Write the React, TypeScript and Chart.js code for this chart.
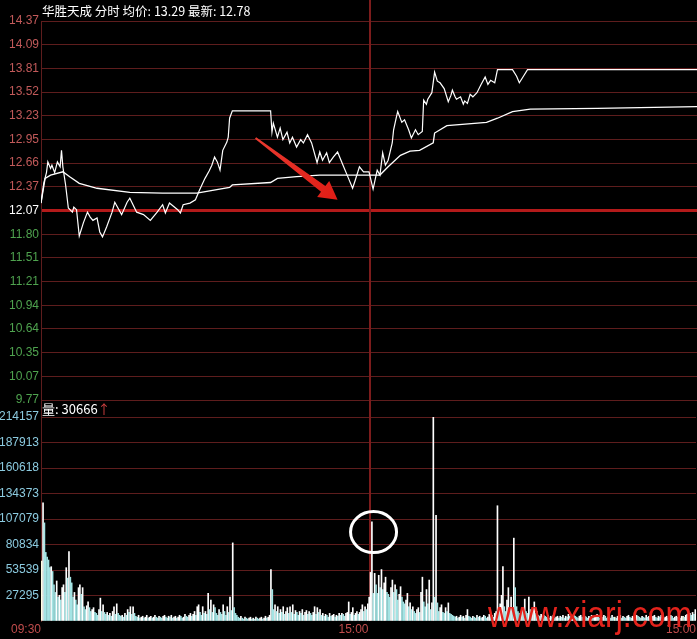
import React, { useEffect, useRef } from 'react';
import { Chart, registerables } from 'chart.js';

Chart.register(...registerables);

// ---------- text ----------
const STOCK_NAME = '华胜天成';
const MODE_LABEL = '分时';
const AVG_LABEL = '均价';
const AVG_VALUE = '13.29';
const LAST_LABEL = '最新';
const LAST_VALUE = '12.78';
const VOL_LABEL = '量';
const VOL_VALUE = '30666';
const WATERMARK = 'www.xiarj.com';

// ---------- axes ----------
const timeTickValues = [0, 240, 480];
const timeTickLabels = ['09:30', '15:00', '15:00'];
const dayBreak = 241;
const minuteMax = 480;

// bottom -> top
const priceTickLabels = ['9.77', '10.07', '10.35', '10.64', '10.94', '11.21', '11.51', '11.80', '12.07', '12.37', '12.66', '12.95', '13.23', '13.52', '13.81', '14.09', '14.37'];
const priceMin = 9.77;
const priceMax = 14.37;
const prevCloseLabel = '12.07';

// bottom -> top
const volumeTickLabels = ['', '27295', '53539', '80834', '107079', '134373', '160618', '187913', '214157'];
const volumeMax = 214157;

// ---------- price series (minute index, price) ----------
const priceMinutes = [0, 2, 4, 5, 7, 8, 10, 12, 14, 15, 16, 18, 20, 23, 24, 26, 28, 31, 34, 36, 38, 41, 43, 45, 48, 52, 54, 56, 59, 63, 65, 70, 75, 80, 85, 89, 91, 94, 100, 102, 104, 109, 113, 116, 120, 123, 125, 127, 129, 131, 133, 136, 137, 138, 140, 168, 169, 170, 173, 175, 177, 180, 182, 184, 187, 190, 192, 195, 198, 202, 204, 206, 209, 211, 214, 217, 221, 225, 228, 230, 233, 236, 240, 243, 246, 248, 250, 252, 254, 257, 258, 260, 261, 264, 266, 269, 271, 274, 276, 279, 280, 282, 283, 286, 288, 290, 292, 295, 298, 300, 301, 303, 304, 307, 309, 310, 312, 314, 316, 319, 322, 325, 327, 329, 332, 334, 345, 348, 350, 353, 356, 480];
const priceValues = [12.16, 12.40, 12.53, 12.66, 12.58, 12.62, 12.53, 12.66, 12.60, 12.80, 12.60, 12.38, 12.10, 12.05, 12.11, 12.08, 11.76, 11.92, 12.05, 11.99, 11.95, 11.98, 11.81, 11.75, 11.87, 12.05, 12.17, 12.11, 12.02, 12.17, 12.22, 12.05, 12.02, 11.95, 12.05, 12.14, 12.04, 12.16, 12.08, 12.04, 12.14, 12.16, 12.20, 12.32, 12.46, 12.55, 12.62, 12.72, 12.66, 12.56, 12.80, 12.90, 12.96, 13.19, 13.28, 13.28, 13.02, 13.13, 12.96, 13.07, 12.93, 13.02, 12.89, 12.96, 12.84, 12.93, 12.89, 12.99, 12.89, 12.65, 12.78, 12.68, 12.77, 12.65, 12.72, 12.78, 12.62, 12.46, 12.34, 12.44, 12.60, 12.54, 12.54, 12.33, 12.56, 12.50, 12.77, 12.62, 12.68, 12.89, 13.05, 13.20, 13.27, 13.14, 13.17, 13.05, 12.95, 13.05, 12.99, 13.03, 13.41, 13.36, 13.42, 13.50, 13.75, 13.64, 13.62, 13.55, 13.39, 13.47, 13.53, 13.45, 13.42, 13.45, 13.36, 13.40, 13.37, 13.48, 13.45, 13.50, 13.60, 13.69, 13.60, 13.65, 13.62, 13.78, 13.78, 13.70, 13.62, 13.70, 13.78, 13.78];

// ---------- average price series ----------
const avgMinutes = [0, 3, 7, 16, 21, 28, 41, 65, 89, 114, 138, 140, 168, 173, 187, 204, 248, 254, 263, 270, 277, 287, 288, 297, 326, 334, 345, 358, 407, 480];
const avgValues = [12.16, 12.46, 12.50, 12.54, 12.48, 12.40, 12.34, 12.29, 12.28, 12.28, 12.35, 12.38, 12.41, 12.46, 12.48, 12.50, 12.50, 12.60, 12.74, 12.79, 12.80, 12.89, 13.01, 13.10, 13.14, 13.19, 13.27, 13.30, 13.31, 13.33];

// ---------- volume per minute (thousands of shares) ----------
const volumeDay1 = [
  63, 124, 103, 72, 67, 64, 56, 57, 52, 38, 30, 42, 25, 27, 22, 35, 38, 30, 56, 45,
  73, 46, 40, 25, 30, 22, 17, 35, 38, 28, 35, 15, 12, 16, 20, 14, 10, 12, 14, 9,
  8, 6, 12, 24, 10, 17, 9, 7, 9, 6, 8, 5, 10, 15, 7, 18, 8, 6, 5, 6,
  4, 8, 6, 12, 9, 15, 7, 15, 8, 5, 4, 6, 3, 4, 5, 3, 4, 6, 3, 4,
  5, 3, 4, 6, 4, 3, 5, 4, 3, 5, 6, 4, 3, 5, 4, 6, 3, 4, 5, 3,
  4, 6, 5, 3, 4, 7, 5, 4, 6, 8, 5, 7, 10, 6, 15, 17, 9, 6, 15, 8,
  10, 7, 29, 12, 22, 9, 17, 14, 8, 6, 12, 9, 7, 17, 10, 6, 15, 9, 25, 11,
  82, 14, 8, 6, 4, 3, 5, 3, 2, 4, 3, 2, 3, 4, 2, 3, 2, 4, 3, 2,
  3, 4, 2, 3, 5, 3, 4, 6, 54, 33, 12, 17, 10, 15, 8, 12, 9, 15, 7, 10,
  14, 8, 15, 9, 17, 7, 11, 9, 6, 10, 8, 12, 6, 9, 11, 7, 10, 8, 6, 9,
  15, 7, 14, 9, 12, 6, 8, 5, 7, 6, 4, 8, 5, 6, 7, 4, 6, 5, 8, 6,
  8, 7, 5, 8, 9, 20, 7, 9, 14, 6, 8, 10, 7, 9, 12, 17, 10, 15, 12, 18,
];
const volumeDay2 = [
  25, 51, 104, 29, 50, 38, 29, 48, 35, 54, 33, 40, 46, 30, 28, 25, 35, 43, 30, 38,
  33, 22, 28, 36, 25, 20, 18, 22, 29, 15, 19, 12, 15, 10, 8, 12, 14, 9, 30, 46,
  20, 15, 33, 18, 43, 12, 19, 214, 25, 111, 19, 10, 14, 17, 9, 8, 14, 10, 19, 8,
  7, 6, 5, 4, 5, 3, 4, 6, 4, 5, 3, 6, 12, 5, 4, 3, 5, 4, 3, 6,
  4, 5, 3, 4, 6, 5, 3, 4, 7, 5, 6, 4, 8, 10, 121, 12, 18, 27, 57, 15,
  10, 22, 35, 14, 25, 12, 87, 35, 15, 10, 8, 6, 12, 9, 23, 10, 8, 25, 12, 9,
  14, 20, 8, 10, 6, 5, 7, 4, 6, 5, 4, 6, 3, 5, 4, 6, 3, 4, 5, 3,
  5, 4, 6, 3, 5, 4, 7, 5, 3, 4, 6, 5, 4, 3, 5, 6, 4, 3, 5, 4,
  3, 5, 4, 6, 3, 4, 5, 7, 4, 3, 5, 4, 6, 5, 3, 4, 5, 3, 6, 4,
  4, 3, 5, 4, 6, 3, 5, 4, 3, 5, 6, 4, 3, 5, 4, 3, 6, 5, 4, 3,
  5, 4, 3, 6, 4, 5, 3, 4, 5, 6, 4, 3, 5, 4, 6, 5, 3, 4, 5, 3,
  4, 6, 5, 3, 4, 5, 4, 6, 3, 5, 5, 4, 6, 7, 5, 8, 6, 9, 7, 12,
];
const volumeUnit = 1000;

// ---------- annotations (data coordinates) ----------
const arrowFrom = { minute: 157, price: 12.95 };
const arrowTo = { minute: 217, price: 12.2 };
const circleAt = { minute: 243.7, volume: 93400 };

// ---------- styles ----------
const BG = '#000000';
const GRID = '#5e1d1d';
const PREV_CLOSE_LINE = '#b31a1a';
const SEPARATOR = '#7c1c1c';
const UP_TEXT = '#c25a5a';
const DOWN_TEXT = '#4fa34f';
const VOL_TEXT = '#8ccbe0';
const TIME_TEXT = '#c04c4c';
const AXIS_FONT = 'Liberation Sans';
const CJK_FONT = '"Noto Sans CJK SC"';

const pricePoints = priceMinutes.map((m, i) => ({ x: m, y: priceValues[i] }));
const avgPoints = avgMinutes.map((m, i) => ({ x: m, y: avgValues[i] }));
const allVolumes = [...volumeDay1, ...volumeDay2];
const volumePoints = allVolumes.map((v, i) => ({ x: i + 0.5, y: v * volumeUnit }));
const volumeColors = allVolumes.map((v, i) => {
  const prev = i > 0 ? allVolumes[i - 1] : v;
  if (v > prev) return '#ffffff';
  if (v === prev) return '#fffde0';
  return '#a4e4e4';
});

const prevCloseIndex = priceTickLabels.indexOf(prevCloseLabel);

const headerPlugin = {
  id: 'header',
  afterDraw(chart: any) {
    const { ctx, chartArea } = chart;
    ctx.save();
    ctx.font = `12.5px ${CJK_FONT}`;
    ctx.fillStyle = '#ffffff';
    ctx.textBaseline = 'middle';
    ctx.textAlign = 'left';
    const text = `${STOCK_NAME} ${MODE_LABEL} ${AVG_LABEL}: ${AVG_VALUE} ${LAST_LABEL}: ${LAST_VALUE}`;
    ctx.fillText(text, chartArea.left + 1, 11);
    ctx.restore();
  },
};

const separatorPlugin = {
  id: 'separator',
  beforeDatasetsDraw(chart: any) {
    const { ctx, chartArea, scales } = chart;
    const x = Math.round(scales.x.getPixelForValue(dayBreak));
    ctx.save();
    ctx.strokeStyle = SEPARATOR;
    ctx.lineWidth = 2;
    ctx.beginPath();
    ctx.moveTo(x, 0);
    ctx.lineTo(x, chart.options.plugins.separator?.toBottom ? chartArea.bottom : chart.height);
    ctx.stroke();
    if (chart.options.plugins.separator?.extendAxis) {
      ctx.strokeStyle = GRID;
      ctx.lineWidth = 1;
      ctx.beginPath();
      ctx.moveTo(chartArea.left + 0.5, 0);
      ctx.lineTo(chartArea.left + 0.5, chartArea.top);
      ctx.stroke();
    }
    ctx.restore();
  },
};

const arrowPlugin = {
  id: 'arrow',
  afterDatasetsDraw(chart: any) {
    const { ctx, scales } = chart;
    const tx = scales.x.getPixelForValue(arrowFrom.minute);
    const ty = scales.y.getPixelForValue(arrowFrom.price);
    const hx = scales.x.getPixelForValue(arrowTo.minute);
    const hy = scales.y.getPixelForValue(arrowTo.price);
    const dx = hx - tx;
    const dy = hy - ty;
    const len = Math.hypot(dx, dy);
    const ux = dx / len;
    const uy = dy / len;
    const nx = -uy;
    const ny = ux;
    const headLen = 18;
    const headHalf = 10;
    const tailHalf = 1;
    const neckHalf = 3.6;
    const bx = hx - ux * headLen;
    const by = hy - uy * headLen;
    ctx.save();
    const grad = ctx.createLinearGradient(tx, ty, hx, hy);
    grad.addColorStop(0, '#ea3b30');
    grad.addColorStop(1, '#e01c15');
    ctx.fillStyle = grad;
    ctx.beginPath();
    ctx.moveTo(tx + nx * tailHalf, ty + ny * tailHalf);
    ctx.lineTo(bx + nx * neckHalf, by + ny * neckHalf);
    ctx.lineTo(bx + nx * headHalf, by + ny * headHalf);
    ctx.lineTo(hx, hy);
    ctx.lineTo(bx - nx * headHalf, by - ny * headHalf);
    ctx.lineTo(bx - nx * neckHalf, by - ny * neckHalf);
    ctx.lineTo(tx - nx * tailHalf, ty - ny * tailHalf);
    ctx.closePath();
    ctx.fill();
    ctx.restore();
  },
};

const volumeDecorPlugin = {
  id: 'volumeDecor',
  afterDatasetsDraw(chart: any) {
    const { ctx, chartArea, scales } = chart;
    ctx.save();
    const cx = scales.x.getPixelForValue(circleAt.minute);
    const cy = scales.y.getPixelForValue(circleAt.volume);
    ctx.strokeStyle = '#ffffff';
    ctx.lineWidth = 3;
    ctx.beginPath();
    ctx.ellipse(cx, cy, 23, 20.5, 0, 0, Math.PI * 2);
    ctx.stroke();
    ctx.font = `36px ${AXIS_FONT}`;
    const w = ctx.measureText(WATERMARK).width;
    ctx.translate(chartArea.right - 208, chartArea.bottom + 6);
    ctx.scale(204 / w, 1);
    ctx.fillStyle = '#e3231c';
    ctx.textBaseline = 'alphabetic';
    ctx.textAlign = 'left';
    ctx.fillText(WATERMARK, 0, 0);
    ctx.restore();
  },
  afterDraw(chart: any) {
    const { ctx, chartArea } = chart;
    ctx.save();
    ctx.font = `13px ${CJK_FONT}`;
    ctx.textBaseline = 'middle';
    ctx.textAlign = 'left';
    let x = chartArea.left + 1;
    const y = 8;
    const first = `${VOL_LABEL}: ${VOL_VALUE}`;
    ctx.fillStyle = '#ffffff';
    ctx.fillText(first, x, y);
    x += ctx.measureText(first).width;
    ctx.fillStyle = '#d04040';
    ctx.fillText('↑', x, y);
    ctx.restore();
  },
};

export default function App() {
  const priceRef = useRef<HTMLCanvasElement>(null);
  const volRef = useRef<HTMLCanvasElement>(null);

  useEffect(() => {
    document.body.style.margin = '0';
    document.body.style.background = BG;

    const priceChart = new Chart(priceRef.current as HTMLCanvasElement, {
      type: 'line',
      data: {
        datasets: [
          { data: pricePoints, borderColor: '#ffffff', borderWidth: 1.2, pointRadius: 0, tension: 0 },
          { data: avgPoints, borderColor: '#ffffff', borderWidth: 1.3, pointRadius: 0, tension: 0 },
        ],
      },
      options: {
        animation: false,
        responsive: false,
        devicePixelRatio: 1,
        events: [],
        layout: { padding: { top: 21, bottom: 10, left: 0, right: 0 } },
        plugins: { legend: { display: false }, tooltip: { enabled: false }, separator: { toBottom: false } } as any,
        scales: {
          x: { type: 'linear', min: 0, max: minuteMax, display: false },
          y: {
            type: 'linear',
            min: priceMin,
            max: priceMax,
            afterBuildTicks: (s: any) => {
              const n = priceTickLabels.length - 1;
              s.ticks = priceTickLabels.map((_, i) => ({ value: priceMin + (i * (priceMax - priceMin)) / n }));
            },
            afterFit: (s: any) => {
              s.width = 41;
            },
            ticks: {
              autoSkip: false,
              padding: 2,
              font: { family: AXIS_FONT, size: 12 },
              color: (c: any) => (c.index > prevCloseIndex ? UP_TEXT : c.index === prevCloseIndex ? '#ffffff' : DOWN_TEXT),
              callback: (_v: any, i: number) => priceTickLabels[i],
            },
            grid: {
              drawTicks: false,
              color: (c: any) => (c.index === prevCloseIndex ? PREV_CLOSE_LINE : GRID),
              lineWidth: (c: any) => (c.index === prevCloseIndex ? 3 : 1),
            },
            border: { color: GRID, width: 1 },
          },
        },
      } as any,
      plugins: [separatorPlugin, headerPlugin, arrowPlugin],
    });

    const volChart = new Chart(volRef.current as HTMLCanvasElement, {
      type: 'bar',
      data: {
        datasets: [
          {
            data: volumePoints,
            backgroundColor: volumeColors,
            borderWidth: 0,
            barThickness: 1,
          },
        ],
      },
      options: {
        animation: false,
        responsive: false,
        devicePixelRatio: 1,
        events: [],
        layout: { padding: { top: 16, bottom: 0, left: 0, right: 0 } },
        plugins: { legend: { display: false }, tooltip: { enabled: false }, separator: { toBottom: true, extendAxis: true } } as any,
        scales: {
          x: {
            type: 'linear',
            min: 0,
            max: minuteMax,
            offset: false,
            z: 1,
            afterBuildTicks: (s: any) => {
              s.ticks = timeTickValues.map((v) => ({ value: v }));
            },
            afterFit: (s: any) => {
              s.height = 18;
            },
            ticks: {
              autoSkip: false,
              maxRotation: 0,
              align: 'end',
              padding: 1,
              font: { family: AXIS_FONT, size: 12 },
              color: TIME_TEXT,
              callback: (_v: any, i: number) => timeTickLabels[i],
            },
            grid: { display: false, drawTicks: false, offset: false },
            border: { display: false },
          },
          y: {
            type: 'linear',
            min: 0,
            max: volumeMax,
            afterBuildTicks: (s: any) => {
              const n = volumeTickLabels.length - 1;
              s.ticks = volumeTickLabels.map((_, i) => ({ value: (i * volumeMax) / n }));
            },
            afterFit: (s: any) => {
              s.width = 41;
            },
            ticks: {
              autoSkip: false,
              padding: 2,
              font: { family: AXIS_FONT, size: 12 },
              color: VOL_TEXT,
              callback: (_v: any, i: number) => volumeTickLabels[i],
            },
            grid: {
              drawTicks: false,
              color: (c: any) => (c.index === 0 ? 'rgba(0,0,0,0)' : GRID),
              lineWidth: 1,
            },
            border: { color: GRID, width: 1 },
          },
        },
      } as any,
      plugins: [separatorPlugin, volumeDecorPlugin],
    });

    return () => {
      priceChart.destroy();
      volChart.destroy();
    };
  }, []);

  return (
    <div style={{ position: 'relative', width: 697, height: 639, background: BG, overflow: 'hidden' }}>
      <canvas ref={priceRef} width={697} height={410} style={{ position: 'absolute', left: 0, top: 0, width: 697, height: 410 }} />
      <canvas ref={volRef} width={697} height={238} style={{ position: 'absolute', left: 0, top: 401, width: 697, height: 238 }} />
    </div>
  );
}
